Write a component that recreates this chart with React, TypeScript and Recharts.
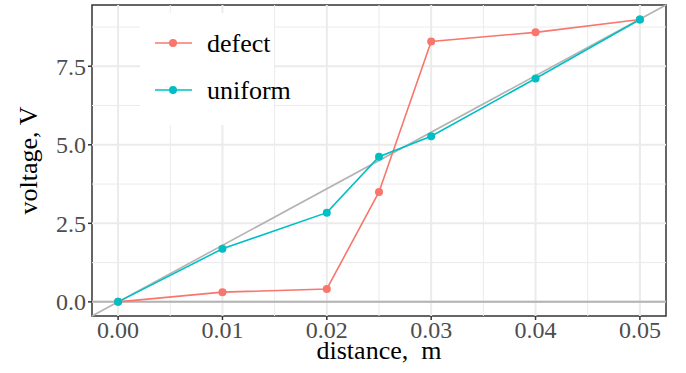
import React from 'react';
import {
  LineChart,
  Line,
  XAxis,
  YAxis,
  ReferenceLine,
  ReferenceArea,
  Legend,
} from 'recharts';

// distance (m) at which the voltage was measured
const distances = [0, 0.01, 0.02, 0.025, 0.03, 0.04, 0.05];
const defectVolts = [0, 0.31, 0.41, 3.5, 8.29, 8.58, 8.99];
const uniformVolts = [0, 1.69, 2.84, 4.62, 5.27, 7.11, 8.99];

const xTicks = [0, 0.01, 0.02, 0.03, 0.04, 0.05];
const xMinor = [0.005, 0.015, 0.025, 0.035, 0.045];
const yTicks = [0, 2.5, 5, 7.5];
const yMinor = [1.25, 3.75, 6.25, 8.75];

const xDomain: [number, number] = [-0.0025, 0.0525];
const yDomain: [number, number] = [-0.45, 9.45];
const idealSlope = 180; // V per m

const data = distances.map((d, i) => ({
  distance: d,
  defect: defectVolts[i],
  uniform: uniformVolts[i],
}));

const FONT = '"Liberation Serif", "Times New Roman", serif';
const RED = '#F8766D';
const TEAL = '#00BFC4';

const YTitle = (props: any) => {
  const vb = props.viewBox || { x: 0, y: 0, width: 0, height: 0 };
  const cx = 28;
  const cy = vb.y + vb.height / 2;
  return (
    <text
      x={cx}
      y={cy}
      transform={`rotate(-90 ${cx} ${cy})`}
      textAnchor="middle"
      dominantBaseline="central"
      fontFamily={FONT}
      fontSize={26}
      fill="#000"
    >
      voltage, V
    </text>
  );
};

const XTitle = (props: any) => {
  const vb = props.viewBox || { x: 0, y: 0, width: 0, height: 0 };
  return (
    <text
      x={vb.x + vb.width / 2}
      y={359}
      textAnchor="middle"
      fontFamily={FONT}
      fontSize={26}
      fill="#000"
    >
      distance,&#160;&#160;m
    </text>
  );
};

// legend keys sit on a white box; the longer label runs past its edge
const LegendBox = (props: any) => {
  const items = props.payload || [];
  return (
    <svg width={170} height={112} style={{ display: 'block', overflow: 'visible' }}>
      <rect x={0} y={0} width={134} height={112} fill="#fff" />
      {items.map((it: any, i: number) => {
        const y = 30 + i * 47;
        return (
          <g key={it.value}>
            <line x1={15} x2={52} y1={y} y2={y} stroke={it.color} strokeWidth={1.6} />
            <circle cx={33} cy={y} r={4} fill={it.color} />
            <text
              x={67}
              y={y}
              dominantBaseline="central"
              fontFamily={FONT}
              fontSize={26}
              fill="#000"
            >
              {it.value}
            </text>
          </g>
        );
      })}
    </svg>
  );
};

export default function App() {
  return (
    <div style={{ position: 'absolute', left: 0, top: 0, background: '#fff' }}>
      <LineChart width={686} height={373} data={data} margin={{ top: 5, right: 20, left: 0, bottom: 0 }}>
        {xMinor.map((v) => (
          <ReferenceLine key={`xm${v}`} x={v} stroke="#ebebeb" strokeWidth={1} />
        ))}
        {yMinor.map((v) => (
          <ReferenceLine key={`ym${v}`} y={v} stroke="#ebebeb" strokeWidth={1} />
        ))}
        {xTicks.map((v) => (
          <ReferenceLine key={`xM${v}`} x={v} stroke="#ebebeb" strokeWidth={2} />
        ))}
        {yTicks.map((v) => (
          <ReferenceLine key={`yM${v}`} y={v} stroke="#ebebeb" strokeWidth={2} />
        ))}
        <ReferenceLine y={0} stroke="#b3b3b3" strokeWidth={2} />
        <ReferenceLine
          segment={[
            { x: xDomain[0], y: xDomain[0] * idealSlope },
            { x: xDomain[1], y: xDomain[1] * idealSlope },
          ]}
          stroke="#b3b3b3"
          strokeWidth={1.6}
          ifOverflow="visible"
        />
        <XAxis
          dataKey="distance"
          type="number"
          domain={xDomain}
          ticks={xTicks}
          allowDataOverflow
          tickFormatter={(v: number) => v.toFixed(2)}
          height={57}
          axisLine={false}
          tickLine={{ stroke: '#333333', strokeWidth: 1.5 }}
          tickSize={4}
          tickMargin={1}
          tick={{ fill: '#4d4d4d', fontSize: 24, fontFamily: FONT }}
          label={<XTitle />}
        />
        <YAxis
          type="number"
          domain={yDomain}
          ticks={yTicks}
          allowDataOverflow
          tickFormatter={(v: number) => v.toFixed(1)}
          width={92}
          axisLine={false}
          tickLine={{ stroke: '#333333', strokeWidth: 1.5 }}
          tickSize={4}
          tickMargin={2}
          tick={{ fill: '#4d4d4d', fontSize: 24, fontFamily: FONT }}
          label={<YTitle />}
        />
        <ReferenceArea
          x1={xDomain[0]}
          x2={xDomain[1]}
          y1={yDomain[0]}
          y2={yDomain[1]}
          fill="none"
          stroke="#333333"
          strokeWidth={1.5}
          ifOverflow="visible"
        />
        <Legend
          layout="vertical"
          align="center"
          verticalAlign="middle"
          wrapperStyle={{ position: 'absolute', left: 140, top: 13, width: 170, height: 112 }}
          content={<LegendBox />}
        />
        <Line
          type="linear"
          dataKey="defect"
          name="defect"
          stroke={RED}
          strokeWidth={1.6}
          dot={{ r: 4, fill: RED, stroke: RED, strokeWidth: 0 }}
          activeDot={false}
          isAnimationActive={false}
        />
        <Line
          type="linear"
          dataKey="uniform"
          name="uniform"
          stroke={TEAL}
          strokeWidth={1.6}
          dot={{ r: 4, fill: TEAL, stroke: TEAL, strokeWidth: 0 }}
          activeDot={false}
          isAnimationActive={false}
        />
      </LineChart>
    </div>
  );
}
